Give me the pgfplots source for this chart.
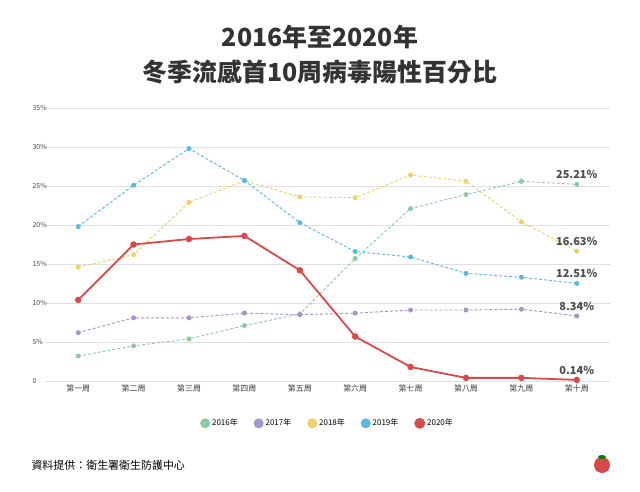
\documentclass[border=0pt]{standalone}
\usepackage{pgfplots}
\pgfplotsset{compat=1.18}
\usepackage{fontspec}
\setmainfont{Noto Sans CJK TC}
\definecolor{cg}{HTML}{8CC9A5}
\definecolor{cp}{HTML}{A693CB}
\definecolor{cy}{HTML}{EFD06A}
\definecolor{cb}{HTML}{5BB8E3}
\definecolor{cr}{HTML}{D9484A}
\tikzset{vl/.style={above,yshift=2bp,font=\bfseries\fontsize{11}{12}\selectfont,text=black!70}}
\begin{document}
\begin{tikzpicture}[x=1bp,y=1bp]
\path[fill=white] (0,0) rectangle (640,492);
\node[font=\bfseries\fontsize{25}{28}\selectfont, text=black!80] at (320,455) {2016年至2020年};
\node[font=\bfseries\fontsize{25}{28}\selectfont, text=black!80] at (320,420) {冬季流感首10周病毒陽性百分比};
\node[anchor=west,font=\fontsize{11}{13}\selectfont] at (28,27) {資料提供：衛生署衛生防護中心};
\fill[cr] (602,27) circle (8);
\fill[green!50!black] (602,35) ellipse (4 and 2);
\begin{axis}[at={(45bp,111bp)},anchor=south west,scale only axis,
 width=565bp,height=273bp,xmin=-0.6,xmax=9.6,ymin=0,ymax=35,
 axis line style={draw=none},tick style={draw=none},
 ytick={0,5,...,35},yticklabels={0,5\%,10\%,15\%,20\%,25\%,30\%,35\%},
 yticklabel style={anchor=west,xshift=-16bp,font=\fontsize{7}{8}\selectfont,text=black!70},
 ymajorgrids,grid style={black!12},
 xtick={0,...,9},xticklabels={第一周,第二周,第三周,第四周,第五周,第六周,第七周,第八周,第九周,第十周},
 xticklabel style={font=\fontsize{8}{9}\selectfont,text=black!75},
 legend columns=5,legend style={at={(0.5,-0.155)},anchor=center,draw=none,font=\fontsize{8}{9}\selectfont,/tikz/every even column/.append style={column sep=14bp}},
 legend image code/.code={\fill[#1,solid] (0.2cm,0) circle (4.5bp);},
 every axis plot/.append style={mark=*,mark size=2bp,line width=0.9pt}]
\addplot[cg,densely dashed,mark options={solid}] coordinates {(0,3.2)(1,4.5)(2,5.4)(3,7.1)(4,8.6)(5,15.7)(6,22.1)(7,23.9)(8,25.6)(9,25.21)};
\addplot[cp,densely dashed,mark options={solid}] coordinates {(0,6.2)(1,8.1)(2,8.1)(3,8.7)(4,8.5)(5,8.7)(6,9.1)(7,9.1)(8,9.2)(9,8.34)};
\addplot[cy,densely dashed,mark options={solid}] coordinates {(0,14.6)(1,16.2)(2,22.9)(3,25.7)(4,23.6)(5,23.5)(6,26.4)(7,25.6)(8,20.4)(9,16.63)};
\addplot[cb,densely dashed,mark options={solid}] coordinates {(0,19.8)(1,25.1)(2,29.8)(3,25.7)(4,20.3)(5,16.6)(6,15.9)(7,13.8)(8,13.3)(9,12.51)};
\addplot[cr,line width=1.8pt,mark size=2.3bp] coordinates {(0,10.4)(1,17.5)(2,18.2)(3,18.6)(4,14.2)(5,5.7)(6,1.8)(7,0.4)(8,0.4)(9,0.14)};
\legend{2016年,2017年,2018年,2019年,2020年}
\node[vl] at (axis cs:9,25.21) {25.21\%};
\node[vl] at (axis cs:9,16.63) {16.63\%};
\node[vl] at (axis cs:9,12.51) {12.51\%};
\node[vl] at (axis cs:9,8.34) {8.34\%};
\node[vl] at (axis cs:9,0.14) {0.14\%};
\end{axis}
\end{tikzpicture}
\end{document}
